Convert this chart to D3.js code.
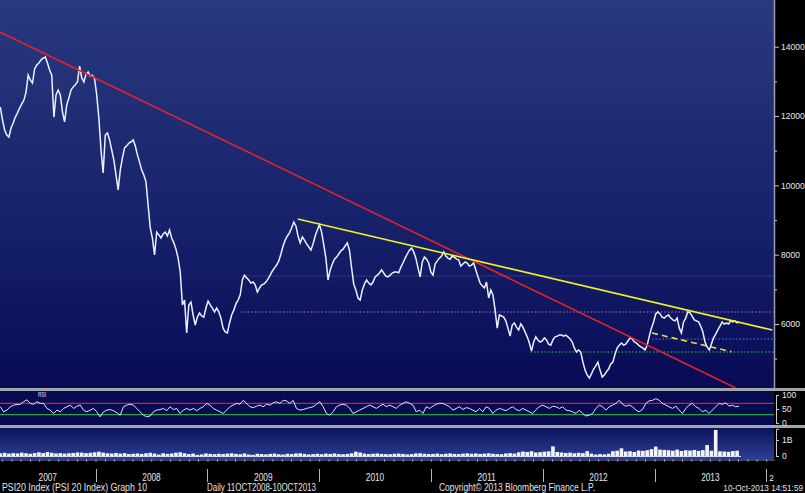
<!DOCTYPE html>
<html><head><meta charset="utf-8">
<script src="https://cdn.jsdelivr.net/npm/d3@7"></script>
<style>
html,body{margin:0;padding:0;background:#000;}
svg{display:block;}
text{font-family:"Liberation Sans","DejaVu Sans",Arial,sans-serif;}
</style></head><body>
<svg id="chart" width="805" height="493"></svg>
<script>
// ---------------- DATA ----------------
const yearLabels = ["2007","2008","2009","2010","2011","2012","2013","2014"];
const priceTicks = [14000, 12000, 10000, 8000, 6000];
const priceMinorTicks = [13000, 11000, 9000, 7000, 5000];
const rsiTicks = [100, 50, 0];
const volTicks = [1000, 0];              // millions
const volTickLabels = ["1B", "0"];
const footerTexts = ["PSI20 Index (PSI 20 Index) Graph 10", "Daily 11OCT2008-10OCT2013",
                     "Copyright\u00A9 2013 Bloomberg Finance L.P.", "10-Oct-2013 14:51:59"];

// weekly closes of PSI 20, first week starting 2007-02-24
const priceStart = "2007-02-24";
const priceWeekly = [
12260,11885,11597,11453,11395,11655,11800,11970,12090,12230,
12350,12460,12690,13180,13040,12950,13360,13470,13530,13620,
13670,13700,13530,13330,13180,11970,12610,12750,12610,12120,
11830,12320,12520,12750,12840,12900,12980,13440,13100,12980,
13210,13270,13150,13180,13070,12610,11940,11020,10360,11450,
11510,11310,11020,10730,10300,9870,10440,10790,11080,11140,
11220,11250,11310,11140,10880,10670,10440,10300,10100,9430,
8770,8480,7990,8650,8570,8480,8600,8650,8540,8710,
8480,8340,8160,7900,7500,6550,6690,5740,6550,6630,
6260,5970,6200,6320,6230,6200,6460,6660,6550,6460,
6350,6460,6350,6170,5880,5770,5740,6030,6260,6400,
6580,6690,6840,7270,7410,7330,7270,7180,7210,7130,
6920,7040,7130,7150,7210,7300,7410,7530,7620,7700,
7820,8020,8250,8420,8540,8630,8770,8940,8830,8540,
8340,8510,8420,8310,8220,8130,8310,8540,8710,8860,
8650,8280,7900,7270,7560,7730,7870,7930,8020,8110,
8160,8250,8340,8130,7620,7150,6980,6750,6690,6980,
7150,7270,7180,7130,7210,7360,7410,7470,7560,7470,
7380,7360,7410,7470,7500,7500,7480,7640,7760,7900,
8020,8130,8190,8080,7900,7620,7360,7790,7930,7870,
7760,7500,7410,7730,7820,7900,7960,8080,7960,7900,
7870,7960,7930,7870,7850,7670,7730,7790,7760,7670,
7700,7760,7560,7360,7180,7100,7040,7210,6750,6980,
6840,6400,5880,6260,6230,6200,6090,5880,5650,5970,
6030,5910,5830,6000,5910,5770,5630,5450,5220,5480,
5630,5540,5480,5510,5600,5540,5420,5390,5540,5630,
5650,5680,5680,5650,5680,5630,5570,5480,5310,5190,
5250,5190,4900,4670,4530,4440,4560,4700,4790,4900,
4670,4470,4530,4620,4700,4850,4900,5130,5310,5390,
5450,5390,5420,5510,5600,5570,5480,5450,5390,5340,
5310,5250,5390,5650,5880,6060,6290,6350,6290,6200,
6170,6230,6260,6170,6120,6090,6170,5880,5740,6060,
6170,6350,6320,6230,6120,6090,6060,5940,5770,5480,
5340,5250,5420,5600,5710,5830,5940,6060,6000,6030,
6000,6090,6060,6090,6030,6060
];

// RSI samples, one every 261 hours from 2007-02-24
const rsiStart = "2007-02-24";
const rsiStepHours = 261;
const rsiValues = [
58,40,46,58,64,66,67,76,83,70, 67,76,70,70,52,46,34,46,40,52,
58,64,52,60,64,46,40,46,52,40, 22,40,46,48,44,37,28,58,64,67,
64,52,40,28,22,25,40,46,48,52, 44,58,48,52,34,46,52,46,52,44,
52,58,70,64,52,46,40,34,46,58, 64,70,67,81,70,58,55,60,64,58,
67,64,72,76,70,81,79,70,81,52, 46,48,52,55,58,67,76,58,34,28,
40,58,64,67,64,52,34,40,46,52, 58,64,58,52,60,67,58,64,58,52,
64,70,76,70,64,40,46,34,58,52, 60,67,70,70,64,58,46,52,58,48,
55,52,46,40,52,40,58,52,34,46, 52,48,44,52,58,48,44,52,46,40,
34,48,58,64,58,52,60,58,52,58, 46,44,40,34,46,34,25,28,34,52,
64,58,46,58,64,70,81,67,60,64, 58,46,40,48,70,79,81,87,81,70,
64,58,52,60,46,34,52,64,70,58, 52,40,46,34,46,58,70,67,72,60,
64,58,60
];
const rsiOverbought = 70;
const rsiOversold = 30;

// fortnightly volume (millions of shares), from 2007-02-24
const volStart = "2007-02-24";
const volStepDays = 14;
const volumeMillions = [
170,200,150,180,160,210,170,140,190,230,180,
250,200,160,180,150,170,190,220,210,180,
200,230,270,210,170,160,190,150,180,120,
140,160,130,170,200,150,90,170,130,160,
210,230,170,120,150,70,100,160,130,110,
140,120,150,170,130,110,160,90,70,140,
120,100,130,150,110,90,140,120,160,170,
130,100,120,140,110,150,130,160,120,110,
130,170,270,220,150,120,140,160,130,120,
110,140,150,130,100,120,160,170,140,120,
130,150,110,140,160,130,120,150,170,140,
160,130,150,170,140,120,110,160,180,150,
230,280,250,300,220,240,270,290,600,250,
220,190,210,170,200,180,300,150,90,120,
100,140,300,330,480,280,300,250,340,320,
360,430,590,400,380,360,330,400,310,360,
340,380,320,370,690,330,1630,290,280,260,310,330
];

// annotation lines
const redTrend = [{date:"2007-02-24", value:14416}, {date:"2013-09-22", value:4162}];
const yellowTrend = [{date:"2009-10-23", value:9029}, {date:"2014-01-21", value:5827}];
const yellowDashed = [{date:"2012-12-24", value:5740}, {date:"2013-09-09", value:5201}];
const levelLines = [
  {from:"2009-04-20", value:7385, kind:"faint"},
  {from:"2009-04-20", value:6346, kind:"pink"},
  {from:"2012-12-24", value:5567, kind:"blue"},
  {from:"2011-11-23", value:5192, kind:"green"}
];

// ---------------- CHART ----------------
const parse = d3.utcParse("%Y-%m-%d");
const svg = d3.select("#chart");
const W = 805, H = 493, PR = 774;
const main = {top:0, bottom:388};
const rsiP = {top:391, bottom:425};
const volP = {top:428, bottom:459};
const YEAR_CW = 4.6;

const x = d3.scaleUtc().domain([Date.UTC(2008,0,1), Date.UTC(2013,0,1)]).range([95.5, 654.5]);
const yP = d3.scaleLinear().domain([6000, 14000]).range([324, 46.7]);
const yR = d3.scaleLinear().domain([0, 100]).range([423, 395]);
const yV = d3.scaleLinear().domain([0, 1700]).range([456, 428.8]);

function narrow(sel, cw){
  sel.each(function(){
    const t = this.textContent;
    if (t) d3.select(this).attr("textLength", t.length*cw).attr("lengthAdjust","spacingAndGlyphs");
  });
}

svg.append("rect").attr("width", W).attr("height", H).attr("fill", "#000");
const defs = svg.append("defs");
const g1 = defs.append("linearGradient").attr("id","gMain").attr("x1",0).attr("y1",0).attr("x2",0).attr("y2",1);
g1.append("stop").attr("offset","0%").attr("stop-color","#29397f");
g1.append("stop").attr("offset","55%").attr("stop-color","#17236c");
g1.append("stop").attr("offset","100%").attr("stop-color","#080b56");
const g2 = defs.append("linearGradient").attr("id","gVol").attr("x1",0).attr("y1",0).attr("x2",0).attr("y2",1);
g2.append("stop").attr("offset","0%").attr("stop-color","#0b135c");
g2.append("stop").attr("offset","100%").attr("stop-color","#2d3e94");
[["cMain",main],["cRsi",rsiP],["cVol",volP]].forEach(([id,p])=>{
  defs.append("clipPath").attr("id",id).append("rect")
    .attr("x",0).attr("y",p.top).attr("width",PR).attr("height",p.bottom-p.top);
});

// panels
svg.append("rect").attr("x",0).attr("y",main.top).attr("width",PR).attr("height",main.bottom-main.top).attr("fill","url(#gMain)");
svg.append("rect").attr("x",0).attr("y",rsiP.top).attr("width",PR).attr("height",rsiP.bottom-rsiP.top).attr("fill","#070b52");
svg.append("rect").attr("x",0).attr("y",volP.top).attr("width",PR).attr("height",volP.bottom-volP.top).attr("fill","url(#gVol)");
// separators
[[388,391],[425,428]].forEach(([a,b])=>{
  svg.append("rect").attr("x",0).attr("y",a).attr("width",W).attr("height",b-a).attr("fill","#a4a4ac");
});
// right axis line of main panel
svg.append("line").attr("x1",774.5).attr("x2",774.5).attr("y1",0).attr("y2",388)
  .attr("stroke","#9c9cac").attr("stroke-width",1.5);

// ---- main panel content
const gm = svg.append("g").attr("clip-path","url(#cMain)");
const lineStyles = {
  faint:{stroke:"rgba(140,150,210,0.22)", dash:null, w:1},
  pink:{stroke:"#c46ad0", dash:"1.5,2", w:1.2},
  blue:{stroke:"#5d74ff", dash:"1.5,2", w:1.2},
  green:{stroke:"#2fd040", dash:"1.5,2", w:1.2}
};
levelLines.forEach(l=>{
  const s = lineStyles[l.kind];
  gm.append("line").attr("x1",x(parse(l.from))).attr("x2",PR)
    .attr("y1",yP(l.value)).attr("y2",yP(l.value))
    .attr("stroke",s.stroke).attr("stroke-width",s.w)
    .attr("stroke-dasharray",s.dash);
});

const priceData = priceWeekly.map((v,i)=>({date:d3.utcDay.offset(parse(priceStart), 7*i), value:v}));
const pLine = d3.line().x(d=>x(d.date)).y(d=>yP(d.value));
gm.append("path").datum(priceData).attr("d",pLine).attr("fill","none")
  .attr("stroke","#eef0ff").attr("stroke-width",1.5).attr("stroke-linejoin","miter");

const tLine = d3.line().x(d=>x(parse(d.date))).y(d=>yP(d.value));
gm.append("path").datum(yellowDashed).attr("d",tLine).attr("fill","none")
  .attr("stroke","#e8e040").attr("stroke-width",1.6).attr("stroke-dasharray","6,4");
gm.append("path").datum(redTrend).attr("d",tLine).attr("fill","none")
  .attr("stroke","#e4222c").attr("stroke-width",1.6);
gm.append("path").datum(yellowTrend).attr("d",tLine).attr("fill","none")
  .attr("stroke","#f2f023").attr("stroke-width",1.6);

// ---- RSI panel
const gr = svg.append("g").attr("clip-path","url(#cRsi)");
gr.append("line").attr("x1",0).attr("x2",PR).attr("y1",yR(rsiOverbought)).attr("y2",yR(rsiOverbought))
  .attr("stroke","#d0203c").attr("stroke-width",1.4);
gr.append("line").attr("x1",0).attr("x2",PR).attr("y1",yR(rsiOversold)).attr("y2",yR(rsiOversold))
  .attr("stroke","#2ea046").attr("stroke-width",1.2);
const rsiData = rsiValues.map((v,i)=>({date:d3.utcHour.offset(parse(rsiStart), rsiStepHours*i), value:v}));
gr.append("path").datum(rsiData)
  .attr("d", d3.line().x(d=>x(d.date)).y(d=>yR(d.value)))
  .attr("fill","none").attr("stroke","#e4e4f4").attr("stroke-width",1);
svg.append("text").attr("x",38).attr("y",397).attr("fill","#e0e0f0")
  .attr("font-size","7px").attr("textLength",8).attr("lengthAdjust","spacingAndGlyphs").text("RSI");

// ---- Volume panel
const gv = svg.append("g").attr("clip-path","url(#cVol)");
const volData = volumeMillions.map((v,i)=>({date:d3.utcDay.offset(parse(volStart), volStepDays*i), value:v}));
gv.selectAll("rect.vb").data(volData).join("rect").attr("class","vb")
  .attr("x",d=>x(d.date)-1.8).attr("width",3.6)
  .attr("y",d=>yV(d.value)).attr("height",d=>yV(0)-yV(d.value))
  .attr("fill","#f4f4ff");
gv.append("line").attr("x1",0).attr("x2",741).attr("y1",yV(0)+0.5).attr("y2",yV(0)+0.5)
  .attr("stroke","#d8dcf0").attr("stroke-width",1);

// ---- right axes
function styleAxis(g){
  g.selectAll("path.domain").attr("stroke","#c8c8d0");
  g.selectAll(".tick line").attr("stroke","#c8c8d0");
  g.selectAll(".tick text").attr("fill","#e8e8e8").attr("font-size","8.6px")
    .attr("font-family",'"Liberation Sans",Arial,sans-serif');
}
const axP = svg.append("g").attr("transform","translate(775,0)")
  .call(d3.axisRight(yP).tickValues(priceTicks).tickSize(4).tickPadding(2).tickFormat(d3.format("d")));
axP.select("path.domain").remove();
styleAxis(axP);
const axPm = svg.append("g").attr("transform","translate(775,0)")
  .call(d3.axisRight(yP).tickValues(priceMinorTicks).tickSize(2).tickFormat(""));
axPm.select("path.domain").remove();
styleAxis(axPm);
const axR = svg.append("g").attr("transform","translate(776,0)")
  .call(d3.axisRight(yR).tickValues(rsiTicks).tickSize(3).tickSizeOuter(3).tickPadding(3));
styleAxis(axR);
const axV = svg.append("g").attr("transform","translate(776,0)")
  .call(d3.axisRight(yV).tickValues(volTicks).tickSize(3).tickSizeOuter(3).tickPadding(3)
    .tickFormat((d,i)=>volTickLabels[i]));
styleAxis(axV);

// ---- bottom time axis (monthly ticks)
const xAxisScale = d3.scaleUtc().domain([x.invert(0), x.invert(PR)]).range([0, PR]);
const axX = svg.append("g").attr("transform","translate(0,459.5)")
  .call(d3.axisBottom(xAxisScale).ticks(d3.utcMonth.every(1)).tickSize(2).tickSizeOuter(0).tickFormat(""));
axX.select("path.domain").attr("stroke","#7c84aa");
axX.selectAll(".tick line").attr("stroke","#c0c4dc");

// year separators and labels
const years = yearLabels.map(y=>({label:y, start:Date.UTC(+y,0,1), end:Date.UTC(+y+1,0,1)}));
years.forEach(yr=>{
  const xs = x(yr.start);
  if (xs > 0 && xs < PR) {
    svg.append("line").attr("x1",Math.round(xs)+0.5).attr("x2",Math.round(xs)+0.5).attr("y1",469).attr("y2",482)
      .attr("stroke","#b4b4b4").attr("stroke-width",1);
  }
});
years.forEach(yr=>{
  const a = Math.max(0, x(yr.start)), b = Math.min(PR, x(yr.end));
  if (b <= a) return;
  if (b - a > 30) {
    const t = svg.append("text").attr("x",(a+b)/2).attr("y",481).attr("text-anchor","middle")
      .attr("fill","#e8e8e8").attr("font-size","10.5px").text(yr.label);
    narrow(t, YEAR_CW);
  } else {
    // partially visible year: show only the characters that fit (Bloomberg truncation)
    const n = Math.max(1, Math.floor((b - a - 2) / YEAR_CW));
    const t = svg.append("text").attr("x",a+3).attr("y",481).attr("text-anchor","start")
      .attr("fill","#e8e8e8").attr("font-size","9px").text(yr.label.slice(0, n));
    narrow(t, YEAR_CW);
  }
});

// footer
const footerPos = [[2,145,"start"],[207,109,"start"],[439,156,"start"]];
footerTexts.slice(0,3).forEach((t,i)=>{
  svg.append("text").attr("x",footerPos[i][0]).attr("y",491)
    .attr("text-anchor",footerPos[i][2])
    .attr("fill","#e4e4e4").attr("font-size","10px")
    .attr("textLength",footerPos[i][1]).attr("lengthAdjust","spacingAndGlyphs").text(t);
});
svg.append("text").attr("x",803).attr("y",491).attr("text-anchor","end")
  .attr("fill","#e4e4e4").attr("font-size","8.2px").text(footerTexts[3]);
</script>
</body></html>
